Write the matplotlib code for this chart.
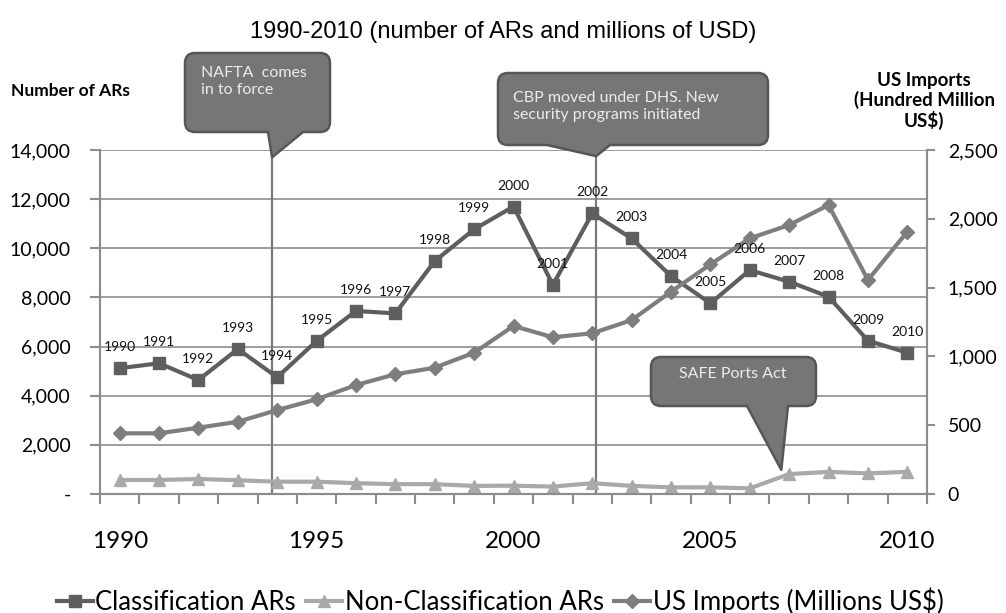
import matplotlib
matplotlib.use('Agg')
import matplotlib.pyplot as plt
from matplotlib.path import Path
from matplotlib.patches import PathPatch
from matplotlib.ticker import FuncFormatter

plt.rcParams['font.family'] = ['Lato', 'DejaVu Sans']

# data
years = list(range(1990, 2011))
classification_ars = [5120, 5320, 4640, 5900, 4750, 6230, 7450, 7350, 9480, 10770, 11700,
                      8510, 11420, 10400, 8870, 7760, 9110, 8640, 8030, 6240, 5750]
non_classification_ars = [570, 570, 610, 560, 500, 500, 440, 400, 400, 330, 340,
                          300, 440, 330, 270, 270, 230, 810, 900, 840, 900]
us_imports = [441, 441, 482, 525, 610, 688, 792, 870, 918, 1027, 1221,
              1139, 1168, 1264, 1470, 1669, 1858, 1955, 2100, 1555, 1906]
label_years = [1990, 1995, 2000, 2005, 2010]

# event markers: (x position on year axis, text)
nafta_year, nafta_text = 1993.87, "NAFTA  comes\nin to force"
cbp_year, cbp_text = 2002.1, "CBP moved under DHS. New\nsecurity programs initiated"
safe_year, safe_text = 2006.8, "SAFE Ports Act"

W, H = 1006, 613
C_CLASS = '#5e5e5e'
C_NON = '#a9a9a9'
C_IMP = '#7e7e7e'
C_GRID = '#8c8c8c'

fig = plt.figure(figsize=(W / 100, H / 100), dpi=100)
ax = fig.add_axes([100 / W, 119 / H, 827 / W, 344 / H])
ax2 = ax.twinx()

ax.set_xlim(1989.5, 2010.5)
ax.set_ylim(0, 14000)
ax2.set_ylim(0, 2500)

ax.set_yticks(range(0, 14001, 2000))
ax.yaxis.set_major_formatter(FuncFormatter(lambda v, p: '-' if v == 0 else f'{int(v):,}'))
ax2.set_yticks(range(0, 2501, 500))
ax2.yaxis.set_major_formatter(FuncFormatter(lambda v, p: f'{int(v):,}'))

ax.set_xticks(label_years)
ax.set_xticklabels([str(y) for y in label_years])
ax.set_xticks([y - 0.5 for y in years] + [years[-1] + 0.5], minor=True)
ax.tick_params(axis='x', which='major', length=0, pad=27, labelsize=17.5)
ax.tick_params(axis='x', which='minor', length=7, width=1.5, color=C_GRID)
ax.tick_params(axis='y', length=7, width=1.5, color=C_GRID, pad=14, labelsize=14)
ax2.tick_params(axis='y', length=6, width=1.5, color=C_GRID, pad=9, labelsize=14)

ax.grid(axis='y', color=C_GRID, linewidth=1.2)
ax.set_axisbelow(True)
for a in (ax, ax2):
    a.spines['top'].set_visible(False)
    for s in ('left', 'right', 'bottom'):
        a.spines[s].set_color(C_GRID)
        a.spines[s].set_linewidth(1.5)

# event lines
for yr in (nafta_year, cbp_year):
    ax.plot([yr, yr], [0, 14000], color='#7a7a7a', linewidth=1.6, zorder=1)

ax.plot(years, classification_ars, color=C_CLASS, marker='s', markersize=8.5,
        linewidth=3, zorder=4, label='Classification ARs')
ax.plot(years, non_classification_ars, color=C_NON, marker='^', markersize=9,
        linewidth=3, zorder=3, label='Non-Classification ARs')
ax2.plot(years, us_imports, color=C_IMP, marker='D', markersize=7,
         linewidth=3, zorder=3, label='US Imports (Millions US\\$)')

for yr, v in zip(years, classification_ars):
    ax2.annotate(str(yr), xy=(yr, v * 2500 / 14000), xytext=(0, 21),
                 textcoords='offset pixels', ha='center', va='center',
                 fontsize=10, color='#111111', zorder=6)


def to_px(x, y):
    d = ax.transData.transform((x, y))
    return d[0], H - d[1]


def callout(box, base, tip, text, text_xy, ha='left', r=10):
    x0, y0, x1, y1 = box
    bl, br = base
    tx, ty = tip
    verts = [(x0 + r, y0), (x1 - r, y0), (x1, y0), (x1, y0 + r), (x1, y1 - r),
             (x1, y1), (x1 - r, y1), (br, y1), (tx, ty), (bl, y1), (x0 + r, y1),
             (x0, y1), (x0, y1 - r), (x0, y0 + r), (x0, y0), (x0 + r, y0), (x0 + r, y0)]
    codes = [Path.MOVETO, Path.LINETO, Path.CURVE3, Path.CURVE3, Path.LINETO,
             Path.CURVE3, Path.CURVE3, Path.LINETO, Path.LINETO, Path.LINETO, Path.LINETO,
             Path.CURVE3, Path.CURVE3, Path.LINETO, Path.CURVE3, Path.CURVE3, Path.CLOSEPOLY]
    verts = [(vx / W, 1 - vy / H) for vx, vy in verts]
    fig.add_artist(PathPatch(Path(verts, codes), transform=fig.transFigure,
                             facecolor='#767676', edgecolor='#565656', linewidth=1.8,
                             joinstyle='round', zorder=10))
    fig.text(text_xy[0] / W, 1 - text_xy[1] / H, text, ha=ha, va='top',
             fontsize=11.5, color='#ececec', linespacing=1.25, zorder=11)


callout((185, 53, 330, 132), (268, 303), to_px(nafta_year, 13700),
        nafta_text, (201, 66))
callout((498, 73, 768, 145), (547, 610), to_px(cbp_year, 13750),
        cbp_text, (513, 91))
callout((651, 357, 816, 406), (747, 788), to_px(safe_year, 980),
        safe_text, (733, 367), ha='center')

fig.text(0.5, 1 - 32 / H, '1990-2010 (number of ARs and millions of USD)',
         ha='center', va='center', fontsize=17, family=['Liberation Sans', 'DejaVu Sans'])
fig.text(11 / W, 1 - 91 / H, 'Number of ARs', ha='left', va='center',
         fontsize=12.5, fontweight='bold')
fig.text(924 / W, 1 - 101 / H, 'US Imports\n(Hundred Million\nUS\\$)', ha='center',
         va='center', fontsize=13.5, fontweight='bold', linespacing=1.1)

handles = ax.get_lines()[2:] + ax2.get_lines()
fig.legend(handles, [h.get_label() for h in handles], loc='center',
           bbox_to_anchor=(0.497, 1 - 601 / H), ncol=3, frameon=False,
           fontsize=18.5, handlelength=1.4, handletextpad=0.1, columnspacing=0.4)

fig.savefig('out.png', dpi=100)
